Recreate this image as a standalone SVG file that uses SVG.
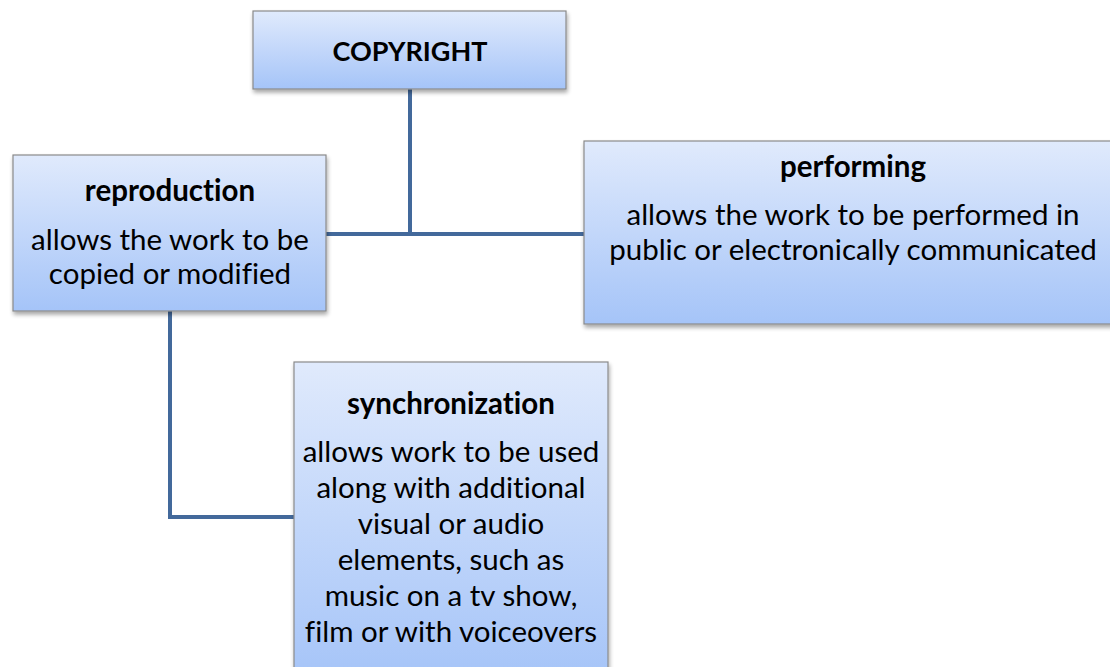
<svg xmlns="http://www.w3.org/2000/svg" width="1110" height="667" viewBox="0 0 1110 667">
<style>
.box{fill:url(#g);stroke:#8a8a8a;stroke-width:1.2;filter:url(#sh)}
.t{font-family:Lato,"Liberation Sans",sans-serif;fill:#000;text-anchor:middle;font-variant-ligatures:none;font-feature-settings:"liga" 0}
.b{font-weight:bold;font-size:29.5px}
.n{font-size:29.5px}
.h{font-weight:bold;font-size:27px}
.c{fill:none;stroke:#43699b;stroke-width:4}
</style>
<defs>
<linearGradient id="g" x1="0" y1="0" x2="0" y2="1">
<stop offset="0" stop-color="#e0eafc"/>
<stop offset="1" stop-color="#a5c4f8"/>
</linearGradient>
<filter id="sh" x="-10%" y="-10%" width="120%" height="130%">
<feGaussianBlur in="SourceAlpha" stdDeviation="2"/>
<feOffset dx="1" dy="3"/>
<feComponentTransfer><feFuncA type="linear" slope="0.35"/></feComponentTransfer>
<feMerge><feMergeNode/><feMergeNode in="SourceGraphic"/></feMerge>
</filter>
</defs>
<rect width="1110" height="667" fill="#fff"/>
<g id="connectors">
<path class="c" d="M410,89 V234 M326,234 H584"/>
<path class="c" d="M170,311 V517 H294"/>
</g>
<g id="copyright">
<rect class="box" x="253" y="11" width="313" height="78"/>
<text class="t h" x="410" y="61">COPYRIGHT</text>
</g>
<g id="reproduction">
<rect class="box" x="13" y="155" width="313" height="156"/>
<text class="t b" x="170" y="201">reproduction</text>
<text class="t n" x="170" y="250">allows the work to be</text>
<text class="t n" x="170" y="284">copied or modified</text>
</g>
<g id="performing">
<rect class="box" x="584" y="141" width="530" height="183"/>
<text class="t b" x="853" y="177">performing</text>
<text class="t n" x="853" y="225">allows the work to be performed in</text>
<text class="t n" x="853" y="260">public or electronically communicated</text>
</g>
<g id="synchronization">
<rect class="box" x="294" y="362" width="314" height="320"/>
<text class="t b" x="451" y="414">synchronization</text>
<text class="t n" x="451" y="462">allows work to be used</text>
<text class="t n" x="451" y="498">along with additional</text>
<text class="t n" x="451" y="534">visual or audio</text>
<text class="t n" x="451" y="570">elements, such as</text>
<text class="t n" x="451" y="606">music on a tv show,</text>
<text class="t n" x="451" y="642">film or with voiceovers</text>
</g>
</svg>
